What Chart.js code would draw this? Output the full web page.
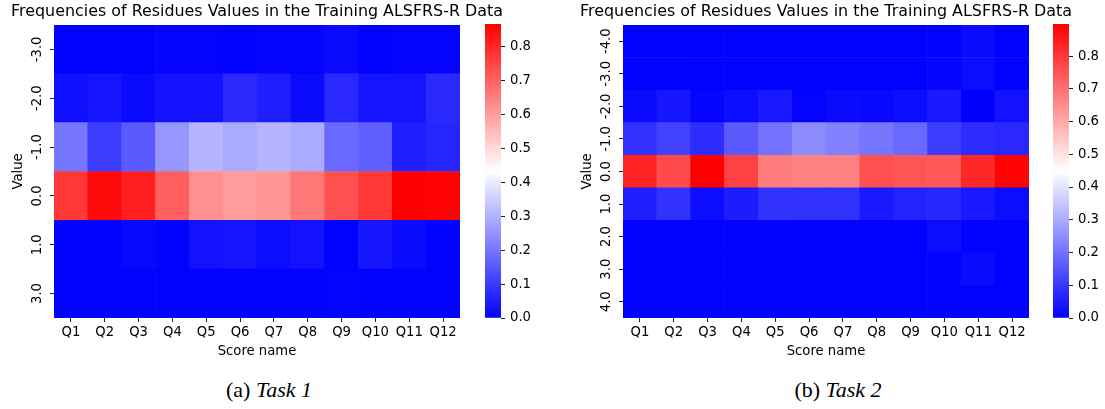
<!DOCTYPE html>
<html>
<head>
<meta charset="utf-8">
<script src="https://cdn.jsdelivr.net/npm/chart.js@4.4.0/dist/chart.umd.min.js"></script>
<style>
  body { margin: 0; background: #fff; width: 1105px; height: 409px; position: relative; overflow: hidden; }
  canvas { position: absolute; top: 0; }
  .cap { position: absolute; top: 377px; font-family: "Liberation Serif", serif; font-size: 22px; color: #000; transform: translateX(-50%); white-space: nowrap; }
</style>
</head>
<body>
<canvas id="heat1" width="514" height="365" style="left:0px"></canvas>
<canvas id="bar1" width="80" height="365" style="left:470px"></canvas>
<canvas id="heat2" width="514" height="365" style="left:569px"></canvas>
<canvas id="bar2" width="67" height="365" style="left:1038px"></canvas>
<div class="cap" style="left:269px">(a) <i>Task 1</i></div>
<div class="cap" style="left:838px">(b) <i>Task 2</i></div>

<script>
// score names on the x axis
var scoreNames = ['Q1', 'Q2', 'Q3', 'Q4', 'Q5', 'Q6', 'Q7', 'Q8', 'Q9', 'Q10', 'Q11', 'Q12'];

// task 1 residue values (rows, top to bottom) and their frequencies
var task1Rows = ['-3.0', '-2.0', '-1.0', '0.0', '1.0', '3.0'];
var t1Minus3 = [0.002, 0.002, 0.002, 0.008, 0.005, 0.002, 0.008, 0.005, 0.017, 0.001, 0.005, 0.005];
var t1Minus2 = [0.026, 0.034, 0.017, 0.031, 0.031, 0.071, 0.051, 0.017, 0.068, 0.034, 0.034, 0.071];
var t1Minus1 = [0.201, 0.102, 0.153, 0.255, 0.306, 0.289, 0.306, 0.289, 0.178, 0.162, 0.051, 0.065];
var t1Zero   = [0.773, 0.850, 0.815, 0.706, 0.621, 0.604, 0.612, 0.663, 0.731, 0.773, 0.867, 0.862];
var t1Plus1  = [0.003, 0.003, 0.014, 0.004, 0.030, 0.034, 0.020, 0.030, 0.002, 0.037, 0.017, 0.004];
var t1Plus3  = [0.001, 0.001, 0.001, 0.001, 0.001, 0.001, 0.001, 0.001, 0.005, 0.003, 0.001, 0.001];

// task 2 residue values (rows, top to bottom) and their frequencies
var task2Rows = ['-4.0', '-3.0', '-2.0', '-1.0', '0.0', '1.0', '2.0', '3.0', '4.0'];
var t2Minus4 = [0.002, 0.003, 0.001, 0.001, 0.001, 0.001, 0.001, 0.001, 0.001, 0.004, 0.018, 0.002];
var t2Minus3 = [0.003, 0.003, 0.001, 0.001, 0.001, 0.001, 0.001, 0.001, 0.001, 0.009, 0.021, 0.002];
var t2Minus2 = [0.018, 0.039, 0.009, 0.021, 0.044, 0.005, 0.018, 0.014, 0.021, 0.044, 0.000, 0.032];
var t2Minus1 = [0.088, 0.114, 0.079, 0.158, 0.200, 0.246, 0.229, 0.207, 0.185, 0.106, 0.079, 0.070];
var t2Zero   = [0.836, 0.766, 0.898, 0.784, 0.678, 0.669, 0.670, 0.757, 0.748, 0.743, 0.828, 0.895];
var t2Plus1  = [0.053, 0.088, 0.021, 0.049, 0.088, 0.088, 0.088, 0.044, 0.062, 0.067, 0.044, 0.021];
var t2Plus2  = [0.001, 0.001, 0.002, 0.004, 0.003, 0.001, 0.001, 0.002, 0.001, 0.021, 0.004, 0.002];
var t2Plus3  = [0.002, 0.004, 0.001, 0.001, 0.001, 0.001, 0.001, 0.001, 0.002, 0.003, 0.018, 0.001];
var t2Plus4  = [0.001, 0.001, 0.001, 0.001, 0.001, 0.001, 0.001, 0.001, 0.001, 0.004, 0.002, 0.001];

// colorbar tick labels
var colorbarTicks = [0.0, 0.1, 0.2, 0.3, 0.4, 0.5, 0.6, 0.7, 0.8];

var chartTitle = 'Frequencies of Residues Values in the Training ALSFRS-R Data';

Chart.defaults.font.family = 'DejaVu Sans';
Chart.defaults.font.size = 13.2;
Chart.defaults.color = '#000';

// matplotlib 'bwr' colormap
function bwr(t) {
    t = Math.max(0, Math.min(1, t));
    var c;
    if (t < 0.5) {
        c = Math.round(510 * t);
        return 'rgb(' + c + ',' + c + ',255)';
    }
    c = Math.round(510 * (1 - t));
    return 'rgb(255,' + c + ',' + c + ')';
}

function heatmap(canvasId, rowLabels, rows) {
    var vmax = Math.max.apply(null, rows.map(function (r) { return Math.max.apply(null, r); }));
    var n = rowLabels.length;
    // stack from the bottom row up, each cell one unit high
    var datasets = rows.slice().reverse().map(function (vals, i) {
        return {
            label: rowLabels[n - 1 - i],
            data: vals.map(function () { return 1; }),
            backgroundColor: vals.map(function (v) { return bwr(v / vmax); }),
            borderWidth: 0,
            barPercentage: 1,
            categoryPercentage: 1
        };
    });
    new Chart(document.getElementById(canvasId).getContext('2d'), {
        type: 'bar',
        data: { labels: scoreNames, datasets: datasets },
        options: {
            responsive: false,
            animation: false,
            plugins: {
                legend: { display: false },
                tooltip: { enabled: false },
                title: {
                    display: true,
                    text: chartTitle,
                    color: '#000',
                    font: { size: 15.9, weight: 'normal' },
                    padding: { top: 2.5, bottom: 3.4 }
                }
            },
            scales: {
                x: {
                    stacked: true,
                    offset: true,
                    grid: { display: true, drawOnChartArea: false, offset: false, tickLength: 4, color: '#222' },
                    border: { display: false },
                    ticks: { maxRotation: 0, autoSkip: false, padding: 3.1 },
                    title: { display: true, text: 'Score name', padding: { top: 0, bottom: 5.1 } },
                    afterFit: function (s) { s.height = 47; }
                },
                y: {
                    type: 'linear',
                    stacked: true,
                    min: 0,
                    max: n,
                    afterBuildTicks: function (s) {
                        s.ticks = rowLabels.map(function (l, i) { return { value: i + 0.5 }; });
                    },
                    ticks: {
                        minRotation: 90,
                        maxRotation: 90,
                        crossAlign: 'center',
                        padding: 0,
                        callback: function (v) { return rowLabels[n - 1 - Math.floor(v)]; }
                    },
                    grid: { display: true, drawOnChartArea: false, tickLength: 4, color: '#222' },
                    border: { display: false },
                    title: { display: true, text: 'Value', padding: { top: 11.1, bottom: 0 } },
                    afterFit: function (s) { s.width = 54; }
                },
                pad: {
                    type: 'linear',
                    position: 'right',
                    display: true,
                    grid: { display: false },
                    border: { display: false },
                    ticks: { display: false },
                    afterFit: function (s) { s.width = 54; }
                }
            }
        }
    });
    return vmax;
}

function colorbar(canvasId, vmax, width) {
    new Chart(document.getElementById(canvasId).getContext('2d'), {
        type: 'bar',
        data: {
            labels: [''],
            datasets: [{
                data: [vmax],
                backgroundColor: function (ctx) {
                    var a = ctx.chart.chartArea;
                    if (!a) return '#0000ff';
                    var g = ctx.chart.ctx.createLinearGradient(0, a.bottom, 0, a.top);
                    g.addColorStop(0, '#0000ff');
                    g.addColorStop(0.5, '#ffffff');
                    g.addColorStop(1, '#ff0000');
                    return g;
                },
                borderWidth: 0,
                barPercentage: 1,
                categoryPercentage: 1
            }]
        },
        options: {
            responsive: false,
            animation: false,
            layout: { padding: { left: 15, top: 24, bottom: 47, right: 0 } },
            plugins: { legend: { display: false }, tooltip: { enabled: false } },
            scales: {
                x: { display: false },
                y: {
                    position: 'right',
                    min: 0,
                    max: vmax,
                    afterBuildTicks: function (s) {
                        s.ticks = colorbarTicks.map(function (v) { return { value: v }; });
                    },
                    ticks: { padding: 5, callback: function (v) { return v.toFixed(1); } },
                    grid: { display: true, drawOnChartArea: false, tickLength: 4, color: '#222' },
                    border: { display: false },
                    afterFit: function (s) { s.width = width - 15 - 16; }
                }
            }
        }
    });
}

var vmax1 = heatmap('heat1', task1Rows, [t1Minus3, t1Minus2, t1Minus1, t1Zero, t1Plus1, t1Plus3]);
colorbar('bar1', vmax1, 80);
var vmax2 = heatmap('heat2', task2Rows, [t2Minus4, t2Minus3, t2Minus2, t2Minus1, t2Zero, t2Plus1, t2Plus2, t2Plus3, t2Plus4]);
colorbar('bar2', vmax2, 67);
</script>
</body>
</html>
